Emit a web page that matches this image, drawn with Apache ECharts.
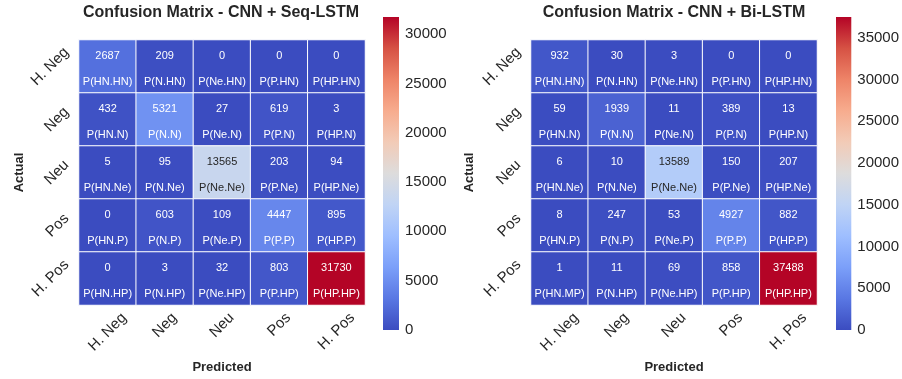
<!DOCTYPE html>
<html><head><meta charset="utf-8">
<script src="https://cdn.jsdelivr.net/npm/echarts@6/dist/echarts.min.js"></script>
<style>html,body{margin:0;padding:0;background:#fff}#c{width:902px;height:379px}</style>
</head><body><div id="c"></div>
<script>
const categories = ['H. Neg', 'Neg', 'Neu', 'Pos', 'H. Pos'];
const seqLstmCounts = [
  [2687, 209, 0, 0, 0],
  [432, 5321, 27, 619, 3],
  [5, 95, 13565, 203, 94],
  [0, 603, 109, 4447, 895],
  [0, 3, 32, 803, 31730]
];
const biLstmCounts = [
  [932, 30, 3, 0, 0],
  [59, 1939, 11, 389, 13],
  [6, 10, 13589, 150, 207],
  [8, 247, 53, 4927, 882],
  [1, 11, 69, 858, 37488]
];
const seqLstmCellNames = [
  ['P(HN.HN)', 'P(N.HN)', 'P(Ne.HN)', 'P(P.HN)', 'P(HP.HN)'],
  ['P(HN.N)', 'P(N.N)', 'P(Ne.N)', 'P(P.N)', 'P(HP.N)'],
  ['P(HN.Ne)', 'P(N.Ne)', 'P(Ne.Ne)', 'P(P.Ne)', 'P(HP.Ne)'],
  ['P(HN.P)', 'P(N.P)', 'P(Ne.P)', 'P(P.P)', 'P(HP.P)'],
  ['P(HN.HP)', 'P(N.HP)', 'P(Ne.HP)', 'P(P.HP)', 'P(HP.HP)']
];
const biLstmCellNames = [
  ['P(HN.HN)', 'P(N.HN)', 'P(Ne.HN)', 'P(P.HN)', 'P(HP.HN)'],
  ['P(HN.N)', 'P(N.N)', 'P(Ne.N)', 'P(P.N)', 'P(HP.N)'],
  ['P(HN.Ne)', 'P(N.Ne)', 'P(Ne.Ne)', 'P(P.Ne)', 'P(HP.Ne)'],
  ['P(HN.P)', 'P(N.P)', 'P(Ne.P)', 'P(P.P)', 'P(HP.P)'],
  ['P(HN.MP)', 'P(N.HP)', 'P(Ne.HP)', 'P(P.HP)', 'P(HP.HP)']
];
const titles = ['Confusion Matrix - CNN + Seq-LSTM', 'Confusion Matrix - CNN + Bi-LSTM'];
const colorbarStep = 5000;
const coolwarm = ['#3b4cc0', '#5977e3', '#7b9ff9', '#9ebeff', '#c0d4f5', '#dddcdc',
                  '#f2cbb7', '#f7ac8e', '#ee8468', '#d65244', '#b40426'];

const FONT = '"Liberation Sans", Arial, Helvetica, sans-serif';
const TXT = '#262626';
const TICK_FS = 15;

// per-label padding so rotated labels mimic matplotlib's bbox alignment
const ctx = document.createElement('canvas').getContext('2d');
ctx.font = TICK_FS + 'px "Liberation Sans"';
const widths = categories.map(c => ctx.measureText(c).width);
const Lmax = Math.max(...widths);
const yRich = {}, xRich = {};
categories.forEach((c, i) => {
  const p = (Lmax - widths[i]) / 2;
  yRich['y' + i] = { padding: [p, 0, 0, p], fontSize: TICK_FS, fontFamily: FONT, color: TXT };
  xRich['x' + i] = { padding: [0, 0, p, p], fontSize: TICK_FS, fontFamily: FONT, color: TXT };
});

const panels = [
  { counts: seqLstmCounts, names: seqLstmCellNames, gridLeft: 79, cbLeft: 383, titleX: 221, actualGap: 53.5 },
  { counts: biLstmCounts, names: biLstmCellNames, gridLeft: 531, cbLeft: 836, titleX: 674, actualGap: 55.5 }
];
const GRID_TOP = 40, GRID_W = 286, GRID_H = 268;
const CB_TOP = 17, CB_W = 16, CB_H = 313;

const grid = [], xAxis = [], yAxis = [], series = [], visualMap = [], title = [];
panels.forEach((pn, k) => {
  const vmax = Math.max(...pn.counts.flat());
  grid.push({ left: pn.gridLeft, top: GRID_TOP, width: GRID_W, height: GRID_H });
  title.push({ text: titles[k], left: pn.titleX, top: 5, textAlign: 'center', padding: 0,
    textStyle: { fontFamily: FONT, fontSize: 16, fontWeight: 'bold', color: TXT } });
  xAxis.push({
    type: 'category', gridIndex: k, data: categories, position: 'bottom',
    axisLine: { show: false }, axisTick: { show: false }, splitLine: { show: false },
    axisLabel: { rotate: 45, align: 'center', verticalAlign: 'middle', margin: 27, interval: 0,
      formatter: (v, i) => '{x' + i + '|' + v + '}', rich: xRich },
    name: 'Predicted', nameLocation: 'middle', nameGap: 56, nameMoveOverlap: false,
    nameTextStyle: { fontFamily: FONT, fontSize: 13, fontWeight: 'bold', color: TXT }
  });
  yAxis.push({
    type: 'category', gridIndex: k, data: categories, inverse: true,
    axisLine: { show: false }, axisTick: { show: false }, splitLine: { show: false },
    axisLabel: { rotate: 45, align: 'center', verticalAlign: 'middle', margin: 29, interval: 0,
      formatter: (v, i) => '{y' + i + '|' + v + '}', rich: yRich },
    name: 'Actual', nameLocation: 'middle', nameGap: pn.actualGap, nameRotate: 90, nameMoveOverlap: false,
    nameTextStyle: { fontFamily: FONT, fontSize: 13, fontWeight: 'bold', color: TXT }
  });
  const data = [];
  pn.counts.forEach((row, r) => row.forEach((v, c) => {
    const f = v / vmax;
    data.push({ value: [c, r, v], label: { color: (f > 0.25 && f < 0.8) ? TXT : '#ffffff' } });
  }));
  series.push({
    type: 'heatmap', xAxisIndex: k, yAxisIndex: k, data: data,
    itemStyle: { borderColor: '#ffffff', borderWidth: 1 },
    emphasis: { disabled: true },
    label: {
      show: true, fontFamily: FONT, fontSize: 11, offset: [0, 2],
      formatter: p => '{v|' + p.value[2] + '}\n{n|' + pn.names[p.value[1]][p.value[0]] + '}',
      rich: { v: { fontSize: 11, lineHeight: 26, fontFamily: FONT }, n: { fontSize: 11, lineHeight: 26, fontFamily: FONT } }
    }
  });
  visualMap.push({
    type: 'continuous', show: false, seriesIndex: k, min: 0, max: vmax,
    inRange: { color: coolwarm }
  });
});
// colorbars: a single gradient bar per panel, with its own value axis for ticks
const gradStops = coolwarm.map((c, i) => ({ offset: i / (coolwarm.length - 1), color: c }));
panels.forEach((pn, k) => {
  const vmax = Math.max(...pn.counts.flat());
  const gi = 2 + k;
  grid.push({ left: pn.cbLeft, top: CB_TOP, width: CB_W, height: CB_H });
  xAxis.push({ type: 'category', gridIndex: gi, data: ['cb'], show: false });
  yAxis.push({
    type: 'value', gridIndex: gi, min: 0, max: vmax, interval: colorbarStep, position: 'right',
    axisLine: { show: false }, axisTick: { show: false }, splitLine: { show: false },
    axisLabel: { margin: 6, fontFamily: FONT, fontSize: TICK_FS, color: TXT, padding: [4, 0, 0, 0],
      formatter: v => (v % colorbarStep === 0 ? String(v) : '') }
  });
  series.push({
    type: 'bar', xAxisIndex: gi, yAxisIndex: gi, data: [vmax], barWidth: '100%',
    silent: true, emphasis: { disabled: true },
    itemStyle: { color: new echarts.graphic.LinearGradient(0, 1, 0, 0, gradStops), borderRadius: 0 }
  });
});

const chart = echarts.init(document.getElementById('c'), null, { renderer: 'canvas' });
chart.setOption({
  backgroundColor: '#ffffff', animation: false,
  title, grid, xAxis, yAxis, visualMap, series
});
</script></body></html>
